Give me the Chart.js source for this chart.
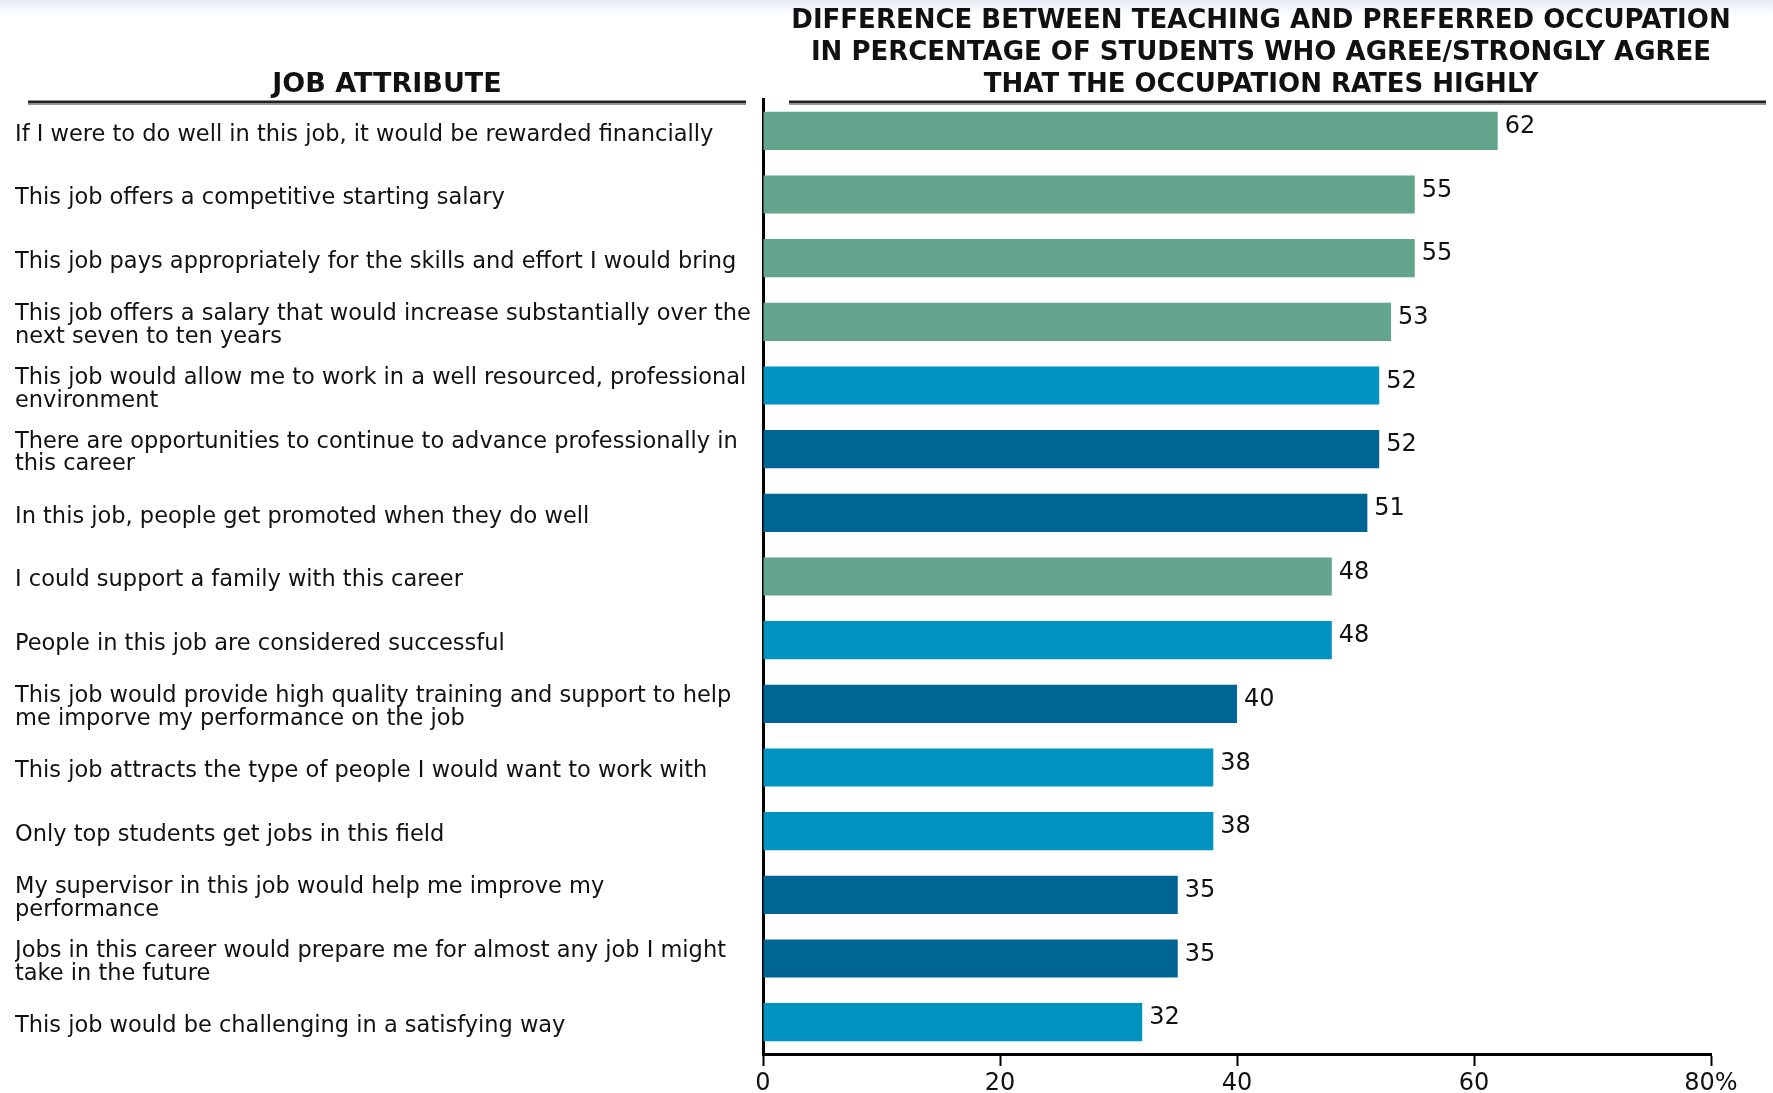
<!DOCTYPE html>
<html lang="en">
<head>
  <meta charset="UTF-8">
  <title>Teaching vs preferred occupation</title>
  <script src="https://cdn.jsdelivr.net/npm/chart.js"></script>
  <style>
    html, body {
      margin: 0;
      padding: 0;
      background: linear-gradient(to bottom, #e6edf6 0px, #ffffff 16px, #ffffff 100%);
    }
    #wrap {
      width: 1773px;
      height: 1093px;
      position: relative;
    }
  </style>
</head>
<body>
<div id="wrap">
  <canvas id="chart" width="1773" height="1093"></canvas>
</div>

<script>
  const categories = [
    "If I were to do well in this job, it would be rewarded financially",
    "This job offers a competitive starting salary",
    "This job pays appropriately for the skills and effort I would bring",
    ["This job offers a salary that would increase substantially over the", "next seven to ten years"],
    ["This job would allow me to work in a well resourced, professional", "environment"],
    ["There are opportunities to continue to advance professionally in", "this career"],
    "In this job, people get promoted when they do well",
    "I could support a family with this career",
    "People in this job are considered successful",
    ["This job would provide high quality training and support to help", "me imporve my performance on the job"],
    "This job attracts the type of people I would want to work with",
    "Only top students get jobs in this field",
    ["My supervisor in this job would help me improve my", "performance"],
    ["Jobs in this career would prepare me for almost any job I might", "take in the future"],
    "This job would be challenging in a satisfying way"
  ];
  const values = [62, 55, 55, 53, 52, 52, 51, 48, 48, 40, 38, 38, 35, 35, 32];
  // g = green, l = light blue, d = dark blue
  const groups = ["g", "g", "g", "g", "l", "d", "d", "g", "l", "d", "l", "l", "d", "d", "l"];
  const groupColors = { g: "#62a58c", l: "#0093bf", d: "#006495" };
  const xTicks = [0, 20, 40, 60, 80];

  const leftTitle = "JOB ATTRIBUTE";
  const rightTitle = [
    "DIFFERENCE BETWEEN TEACHING AND PREFERRED OCCUPATION",
    "IN PERCENTAGE OF STUDENTS WHO AGREE/STRONGLY AGREE",
    "THAT THE OCCUPATION RATES HIGHLY"
  ];

  const FONT = "'DejaVu Sans', sans-serif";

  const headerPlugin = {
    id: "header",
    afterDraw(chart) {
      const ctx = chart.ctx;
      ctx.save();
      // header rules
      ctx.strokeStyle = "#222";
      ctx.lineWidth = 3;
      ctx.beginPath();
      ctx.moveTo(28, 102); ctx.lineTo(746, 102);
      ctx.moveTo(789, 102); ctx.lineTo(1766, 102);
      ctx.stroke();
      ctx.strokeStyle = "#999";
      ctx.lineWidth = 1;
      ctx.beginPath();
      ctx.moveTo(28, 104.5); ctx.lineTo(746, 104.5);
      ctx.moveTo(789, 104.5); ctx.lineTo(1766, 104.5);
      ctx.stroke();

      ctx.fillStyle = "#111";
      ctx.textAlign = "center";
      ctx.textBaseline = "middle";
      ctx.font = "bold 27px " + FONT;
      ctx.fillText(leftTitle, 387, 85);
      ctx.font = "bold 26px " + FONT;
      rightTitle.forEach((line, i) => {
        ctx.fillText(line, 1261, 21 + i * 32);
      });
      ctx.restore();
    }
  };

  const valueLabels = {
    id: "valueLabels",
    afterDatasetsDraw(chart) {
      const ctx = chart.ctx;
      const meta = chart.getDatasetMeta(0);
      ctx.save();
      ctx.fillStyle = "#111";
      ctx.font = "24px " + FONT;
      ctx.textAlign = "left";
      ctx.textBaseline = "middle";
      meta.data.forEach((bar, i) => {
        ctx.fillText(values[i], bar.x + 7, bar.y - 4);
      });
      ctx.restore();
    }
  };

  const ctx = document.getElementById("chart").getContext("2d");
  new Chart(ctx, {
    type: "bar",
    data: {
      labels: categories,
      datasets: [{
        data: values,
        backgroundColor: groups.map(g => groupColors[g]),
        borderWidth: 0,
        categoryPercentage: 1,
        barPercentage: 0.6
      }]
    },
    plugins: [headerPlugin, valueLabels],
    options: {
      indexAxis: "y",
      responsive: false,
      animation: false,
      layout: { padding: { left: 15, right: 62, top: 99, bottom: 0 } },
      plugins: {
        legend: { display: false },
        tooltip: { enabled: false }
      },
      scales: {
        x: {
          min: 0,
          max: 80,
          afterBuildTicks(scale) {
            scale.ticks = xTicks.map(v => ({ value: v }));
          },
          border: { display: true, color: "#000", width: 3 },
          grid: {
            drawOnChartArea: false,
            drawTicks: true,
            tickLength: 12,
            tickColor: "#000",
            tickWidth: 2
          },
          ticks: {
            color: "#111",
            padding: 3,
            font: { family: FONT, size: 24 },
            callback: v => (v === 80 ? v + "%" : v)
          },
          afterFit(scale) { scale.height = 39; }
        },
        y: {
          border: { display: true, color: "#000", width: 3 },
          grid: { display: false, drawTicks: false },
          ticks: {
            crossAlign: "far",
            color: "#111",
            padding: 0,
            labelOffset: 4,
            font: { family: FONT, size: 22.5, lineHeight: 1.0 }
          },
          afterFit(scale) { scale.width = 748; }
        }
      }
    }
  });
</script>
</body>
</html>
